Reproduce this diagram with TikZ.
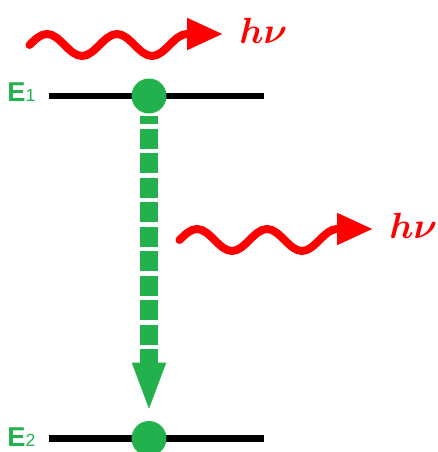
\documentclass[tikz,border=0pt]{standalone}
\usepackage{fontspec}
\setsansfont{Liberation Sans}
\usetikzlibrary{arrows.meta,positioning}
\definecolor{levelgreen}{RGB}{34,177,76}
\tikzset{
  level/.style={line width=0.13cm, black}, % energy level line
  dot/.style={circle, fill=levelgreen, minimum size=0.7cm, inner sep=0pt},
  drop/.style={levelgreen, line width=0.36cm, dash pattern=on 0.4cm off 0.09cm, dash phase=0.24cm,
    -{Triangle[length=1cm,width=0.6cm]}, shorten <=0.05cm, shorten >=0.16cm},
  photon/.style={red, line width=0.16cm, line cap=round, -{Triangle[length=0.72cm,width=0.6cm]}},
  photon label/.style={red, font=\fontsize{21}{24}\selectfont\boldmath, anchor=base west, inner sep=0pt},
  level label/.style={levelgreen, font=\sffamily\fontsize{15.5}{18}\selectfont, anchor=base west, inner sep=0pt},
}

\begin{document}
\begin{tikzpicture}[x=0.02cm,y=-0.02cm,on grid]
    \useasboundingbox (0,0) rectangle (437,452);
    % levels
    \coordinate (e1l) at (49,96);
    \coordinate[right=4.3cm of e1l] (e1r);
    \coordinate[below=6.85cm of e1l] (e2l);
    \coordinate[below=6.85cm of e1r] (e2r);
    \draw[level] (e1l) -- (e1r);
    \draw[level] (e2l) -- (e2r);
    \node[level label] (e1) at (7,102) {\textbf{E}\fontsize{10}{10}\selectfont 1};
    \node[level label] (e2) at (7,446) {\textbf{E}\fontsize{10}{10}\selectfont 2};
    % electron
    \node[dot] (upper) at (149,96) {};
    \node[dot] (lower) at (149,438.5) {};
    \draw[drop] (upper) -- (lower);
    % photons
    \foreach \i/\sx/\sy in {1/29.5/45, 2/179.5/240} {
      \coordinate (w\i) at (\sx,\sy);
      \draw[photon] (w\i) sin ++(17.5,-11) cos ++(17.5,11) sin ++(17.5,11) cos ++(17.5,-11)
          sin ++(17.5,-11) cos ++(17.5,11) sin ++(17.5,11) cos ++(17.5,-11)
          sin ++(17.5,-11) -- ++(36,0) coordinate (tip\i);
      \node[photon label] (hv\i) at ([xshift=0.32cm,yshift=-0.2cm]tip\i) {$h\nu$};
    }
\end{tikzpicture}
\end{document}
